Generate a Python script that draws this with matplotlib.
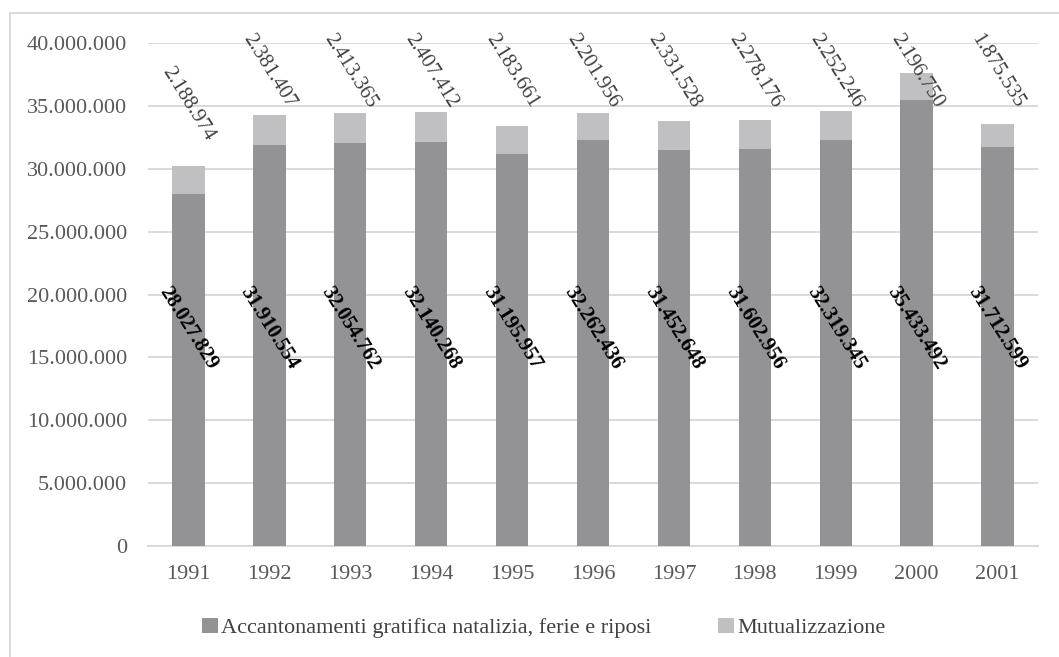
import matplotlib
matplotlib.use("Agg")
import matplotlib.pyplot as plt
from matplotlib.patches import Patch, Rectangle
from matplotlib.ticker import FuncFormatter

plt.rcParams['font.family'] = ['Liberation Serif', 'DejaVu Serif']

# Costo del personale per anno
years = ["1991", "1992", "1993", "1994", "1995", "1996",
         "1997", "1998", "1999", "2000", "2001"]
accantonamenti = [28027829, 31910554, 32054762, 32140268, 31195957, 32262436,
                  31452648, 31602956, 32319345, 35433492, 31712599]
mutualizzazione = [2188974, 2381407, 2413365, 2407412, 2183661, 2201956,
                   2331528, 2278176, 2252246, 2196750, 1875535]
series_names = ["Accantonamenti gratifica natalizia, ferie e riposi",
                "Mutualizzazione"]

DARK = "#939396"
LIGHT = "#c0c0c2"
GRID = "#d9d9d9"


def it_fmt(v):
    """Numero intero con il punto come separatore delle migliaia."""
    return f"{int(round(v)):,}".replace(",", ".")


W, H = 1059, 657
fig = plt.figure(figsize=(W / 100, H / 100), dpi=100)
ax = fig.add_axes([148 / W, 111 / H, (1038 - 148) / W, (546 - 43) / H])

x = list(range(len(years)))
ax.bar(x, accantonamenti, width=0.4, color=DARK, zorder=3)
ax.bar(x, mutualizzazione, width=0.4, bottom=accantonamenti, color=LIGHT, zorder=3)

ax.set_xlim(-0.5, len(years) - 0.5)
ax.set_ylim(0, 40000000)
ax.set_yticks(range(0, 40000001, 5000000))
ax.yaxis.set_major_formatter(FuncFormatter(lambda v, p: it_fmt(v)))
ax.set_xticks(x)
ax.set_xticklabels(years)
ax.tick_params(axis="both", length=0, labelsize=16, labelcolor="#595959")
ax.tick_params(axis="y", pad=15)
ax.tick_params(axis="x", pad=14)
ax.grid(axis="y", color=GRID, linewidth=1.4, zorder=0)
for side in ["top", "right", "left"]:
    ax.spines[side].set_visible(False)
ax.spines["bottom"].set_color(GRID)
ax.spines["bottom"].set_linewidth(1.4)

# etichette: valore inferiore in grassetto, valore superiore sopra la barra
for i in x:
    ax.text(i, 17300000, it_fmt(accantonamenti[i]), rotation=-58,
            ha="center", va="center", fontsize=15, fontweight="bold",
            color="black", zorder=4)
    total = accantonamenti[i] + mutualizzazione[i]
    ypos = min(total + 4900000, 37800000)
    ax.text(i, ypos, it_fmt(mutualizzazione[i]), rotation=-58,
            ha="center", va="center", fontsize=15, color="#404040",
            zorder=4, clip_on=False)

handles = [Patch(facecolor=DARK, edgecolor="none"),
           Patch(facecolor=LIGHT, edgecolor="none")]
fig.legend(handles, series_names, loc="center", bbox_to_anchor=(544 / W, 1 - 628 / H),
           ncol=2, frameon=False, fontsize=16, labelcolor="#404040",
           handlelength=0.7, handleheight=0.7, handletextpad=0.15,
           columnspacing=3.0)

# cornice dell'area del grafico
fig.patches.append(Rectangle((10 / W, -0.05), 1.1, (657 - 13) / H + 0.05,
                             transform=fig.transFigure, fill=False,
                             edgecolor=GRID, linewidth=1.4))

fig.savefig("out.png", dpi=100)
